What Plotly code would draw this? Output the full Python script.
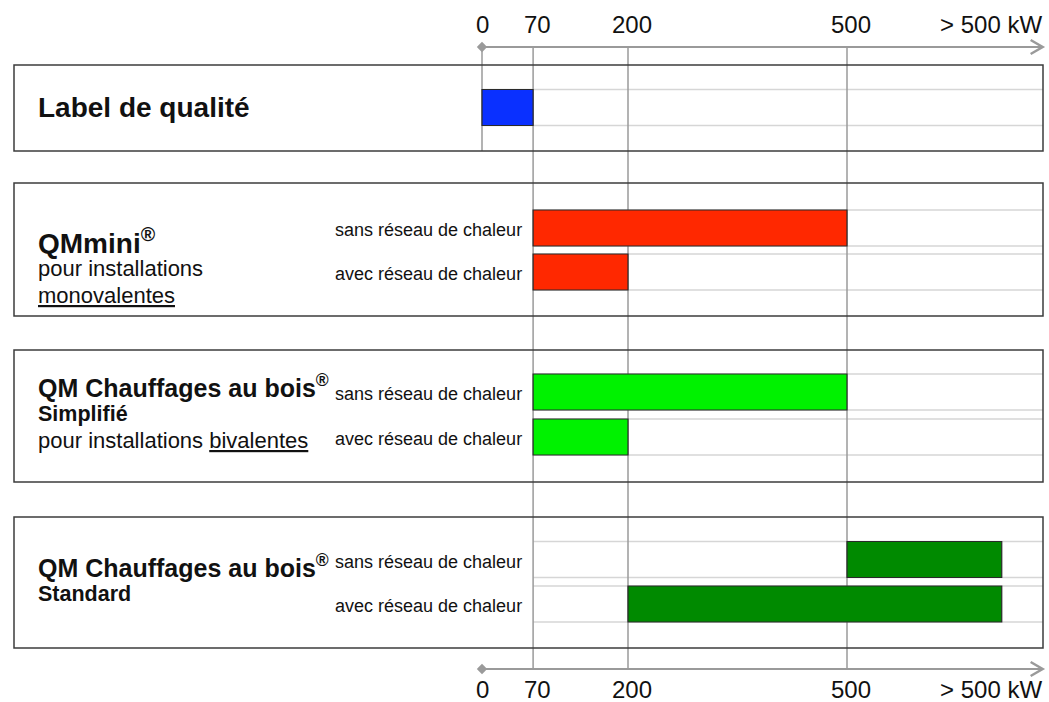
import plotly.graph_objects as go

W, H = 1049, 702

# ---------------- data ----------------
tick_values = [0, 70, 200, 500]
tick_labels = ["0", "70", "200", "500"]
open_label = "> 500 kW"
open_label_value = 697      # where the open-ended label sits (kW scale)
open_end = 712              # end of the open-ended ("> 500 kW") bars
axis_end = 768              # arrow tip

group_titles = ["Label de qualité", "QMmini<sup>®</sup>",
                "QM Chauffages au bois<sup>®</sup>", "QM Chauffages au bois<sup>®</sup>"]
group_sublines = [
    [],
    [("pour installations", False), ("<u>monovalentes</u>", False)],
    [("Simplifié", True), ("pour installations <u>bivalentes</u>", False)],
    [("Standard", True)],
]
row_labels = ["", "sans réseau de chaleur", "avec réseau de chaleur",
              "sans réseau de chaleur", "avec réseau de chaleur",
              "sans réseau de chaleur", "avec réseau de chaleur"]
row_group = [0, 1, 1, 2, 2, 3, 3]
bar_start = [0, 70, 70, 70, 70, 500, 200]
bar_end = [70, 500, 200, 500, 200, open_end, open_end]
group_colors = ["#0a30ff", "#ff2800", "#00f200", "#008a00"]

# ---------------- layout (pixel positions) ----------------
px_per_kw = 0.73
x0_px = 482
x_range = [-x0_px / px_per_kw, (W - x0_px) / px_per_kw]


def paper_to_x(px):
    return x_range[0] + px / W * (x_range[1] - x_range[0])


box_left_px, box_right_px = 14, 1043
box_tops = [65, 183, 350, 517]
box_bottoms = [151, 316, 482, 648]
row_centers = [107.5, 228, 272, 392, 437, 559.5, 604]
bar_h = 36
guide_start = [0, 70, 70, 70]
title_y = [107, 241, 386, 566]
title_size = [28, 28, 25, 25]
subline_y = [[], [268, 295], [414, 440], [594]]
top_axis_y, bottom_axis_y = 47, 669
top_label_y, bottom_label_y = 24, 689

font_main = "Liberation Sans, Arial, sans-serif"

fig = go.Figure()

# bars
for i in range(len(bar_start)):
    g = row_group[i]
    fig.add_trace(go.Bar(
        orientation="h",
        base=[bar_start[i]], x=[bar_end[i] - bar_start[i]], y=[row_centers[i]],
        width=bar_h,
        marker=dict(color=group_colors[g], line=dict(color="#2a2a2a", width=1.2)),
        showlegend=False, hoverinfo="skip",
    ))

shapes = []
box_right_x = paper_to_x(box_right_px)

# horizontal guide lines at bar edges
for i in range(len(bar_start)):
    g = row_group[i]
    for yy in (row_centers[i] - bar_h / 2, row_centers[i] + bar_h / 2):
        shapes.append(dict(type="line", xref="x", yref="y", layer="below",
                           x0=guide_start[g], x1=box_right_x, y0=yy, y1=yy,
                           line=dict(color="#d6d6d6", width=1.5)))

# vertical lines
for v in tick_values:
    y_end = box_bottoms[0] if v == 0 else bottom_axis_y
    shapes.append(dict(type="line", xref="x", yref="y", layer="below",
                       x0=v, x1=v, y0=top_axis_y, y1=y_end,
                       line=dict(color="#9a9a9a", width=1.5)))

# boxes
for t, b in zip(box_tops, box_bottoms):
    shapes.append(dict(type="rect", xref="paper", yref="y", layer="above",
                       x0=box_left_px / W, x1=box_right_px / W, y0=t, y1=b,
                       line=dict(color="#3c3c3c", width=1.5), fillcolor="rgba(0,0,0,0)"))

# axis arrows
head_dx = 12 / px_per_kw
for ay in (top_axis_y, bottom_axis_y):
    shapes.append(dict(type="line", xref="x", yref="y", x0=0, x1=axis_end, y0=ay, y1=ay,
                       line=dict(color="#9a9a9a", width=2)))
    shapes.append(dict(type="path", xref="x", yref="y",
                       path=f"M {axis_end - head_dx},{ay - 7} L {axis_end},{ay} L {axis_end - head_dx},{ay + 7}",
                       line=dict(color="#9a9a9a", width=2.5)))
    fig.add_trace(go.Scatter(x=[0], y=[ay], mode="markers",
                             marker=dict(symbol="diamond", size=8, color="#9a9a9a"),
                             showlegend=False, hoverinfo="skip"))

annotations = []
# tick labels
for ly in (top_label_y, bottom_label_y):
    for v, t in zip(tick_values, tick_labels):
        annotations.append(dict(x=v, y=ly, xref="x", yref="y", text=t, showarrow=False,
                                xshift=0 if v == 0 else 4,
                                font=dict(family=font_main, size=24, color="#111")))
    annotations.append(dict(x=open_label_value, y=ly, xref="x", yref="y", text=open_label,
                            showarrow=False, font=dict(family=font_main, size=24, color="#111")))

# group titles and sublines
for g, title in enumerate(group_titles):
    annotations.append(dict(x=36 / W, y=title_y[g], xref="paper", yref="y", xanchor="left",
                            text=f"<b>{title}</b>", showarrow=False,
                            font=dict(family=font_main, size=title_size[g], color="#111")))
    for (txt, bold), yy in zip(group_sublines[g], subline_y[g]):
        annotations.append(dict(x=36 / W, y=yy, xref="paper", yref="y", xanchor="left",
                                text=f"<b>{txt}</b>" if bold else txt, showarrow=False,
                                font=dict(family=font_main, size=21.5 if bold else 22, color="#111")))

# row labels
for i, lab in enumerate(row_labels):
    if lab:
        annotations.append(dict(x=524 / W, y=row_centers[i] + 2, xref="paper", yref="y",
                                xanchor="right", text=lab, showarrow=False,
                                font=dict(family=font_main, size=18, color="#111")))

fig.update_layout(
    width=W, height=H,
    margin=dict(l=0, r=0, t=0, b=0),
    paper_bgcolor="white", plot_bgcolor="white",
    barmode="overlay",
    xaxis=dict(range=x_range, visible=False, fixedrange=True),
    yaxis=dict(range=[H, 0], visible=False, fixedrange=True),
    shapes=shapes, annotations=annotations,
)

fig.write_html("out.html", config={"displayModeBar": False},
               post_script="document.body.style.margin='0';")
